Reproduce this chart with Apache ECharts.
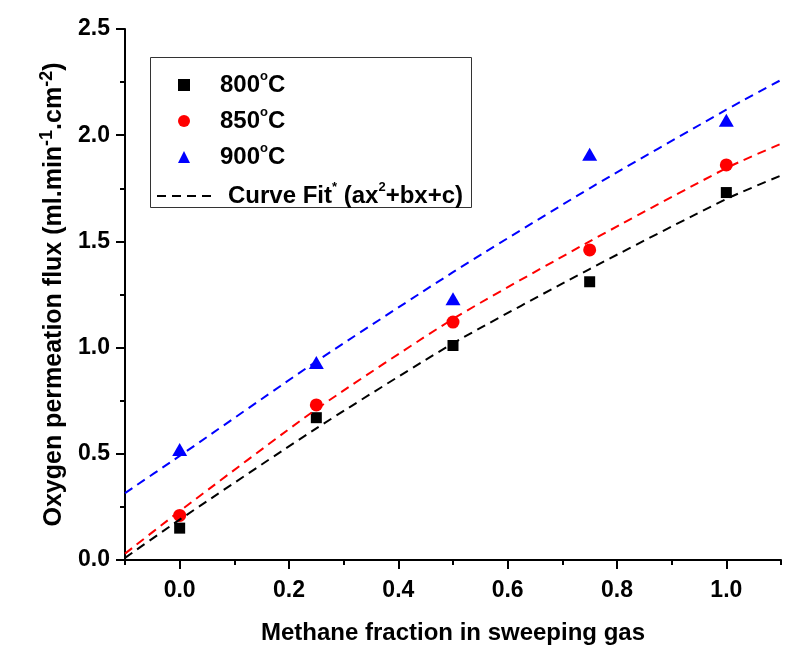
<!DOCTYPE html>
<html>
<head>
<meta charset="utf-8">
<script src="https://cdn.jsdelivr.net/npm/echarts@6/dist/echarts.min.js"></script>
<style>html,body{margin:0;padding:0;background:#fff}#c{width:807px;height:665px}</style>
</head>
<body>
<div id="c"></div>
<script>
// ---- data ----
const xMajorTicks = [0, 0.2, 0.4, 0.6, 0.8, 1.0];
const xMinorTicks = [-0.1, 0.1, 0.3, 0.5, 0.7, 0.9, 1.1];
const methane = [0, 0.25, 0.5, 0.75, 1.0];
const flux800 = [0.15, 0.67, 1.01, 1.31, 1.73];
const flux850 = [0.21, 0.73, 1.12, 1.46, 1.86];
const flux900 = [0.52, 0.93, 1.23, 1.91, 2.07];
const fitX = [-0.1, 0, 0.25, 0.5, 0.75, 1.0, 1.1];
const fit800 = [0.01, 0.19, 0.62, 1.02, 1.37, 1.70, 1.81];
const fit850 = [0.03, 0.23, 0.71, 1.135, 1.50, 1.845, 1.96];
const fit900 = [0.315, 0.49, 0.935, 1.355, 1.75, 2.12, 2.26];
const legendNames = ['800', '850', '900'];

const pair = (xs, ys) => xs.map((x, i) => [x, ys[i]]);
const FONT = '"Liberation Sans", Arial, sans-serif';

const chart = echarts.init(document.getElementById('c'), null, {renderer: 'canvas'});
const dashed = [9, 6];
const legendRich = {
  t: {fontFamily: FONT, fontWeight: 'bold', fontSize: 24, lineHeight: 30, color: '#000'},
  s: {fontFamily: FONT, fontWeight: 'bold', fontSize: 13, lineHeight: 11, verticalAlign: 'top', color: '#000'}
};

chart.setOption({
  backgroundColor: '#ffffff',
  animation: false,
  grid: {left: 125, right: 26, top: 29, bottom: 105, containLabel: false},
  graphic: [{
    type: 'rect', z: 1,
    shape: {x: 150.5, y: 57.5, width: 321, height: 150},
    style: {fill: '#ffffff', stroke: '#333333', lineWidth: 1}
  }],
  legend: [{
    orient: 'vertical', left: 178, top: 70, padding: 0,
    itemWidth: 12, itemHeight: 12, itemGap: 9,
    data: legendNames.map(n => n + '°C'),
    formatter: function (name) { return '{t|' + name.replace('°C', '') + '}{s|o}{t|C}'; },
    textStyle: {padding: [0, 0, 0, 25], rich: legendRich}
  }, {
    orient: 'vertical', left: 156, top: 181, padding: 0,
    itemWidth: 58, itemHeight: 12,
    data: [{name: 'Curve Fit', itemStyle: {opacity: 0}}],
    formatter: function () { return '{t|Curve Fit}{s|*}{t| (ax}{s|2}{t|+bx+c)}'; },
    textStyle: {padding: [0, 0, 0, 8], rich: legendRich}
  }],
  xAxis: [{
    type: 'value', min: -0.1, max: 1.1, position: 'bottom',
    name: 'Methane fraction in sweeping gas', nameLocation: 'middle', nameGap: 61,
    nameTextStyle: {fontFamily: FONT, fontWeight: 'bold', fontSize: 24, color: '#000'},
    axisLine: {show: true, onZero: false, lineStyle: {color: '#000', width: 2}},
    axisTick: {show: true, customValues: xMajorTicks, length: 9, inside: false, lineStyle: {color: '#000', width: 2}},
    axisLabel: {customValues: xMajorTicks, margin: 19, fontFamily: FONT, fontWeight: 'bold', fontSize: 23, color: '#000',
      formatter: v => v.toFixed(1)},
    splitLine: {show: false}
  }, {
    type: 'value', min: -0.1, max: 1.1, position: 'bottom',
    axisLine: {show: false, onZero: false},
    axisTick: {show: true, customValues: xMinorTicks, length: 5, lineStyle: {color: '#000', width: 2}},
    axisLabel: {show: false},
    splitLine: {show: false}
  }],
  yAxis: {
    type: 'value', min: 0, max: 2.5, interval: 0.5,
    name: '{t|Oxygen permeation flux (ml.min}{s|-1}{t|.cm}{s|-2}{t|)}',
    nameLocation: 'middle', nameGap: 55, nameRotate: 90,
    nameTextStyle: {
      rich: {
        t: {fontFamily: FONT, fontWeight: 'bold', fontSize: 25, lineHeight: 32, color: '#000'},
        s: {fontFamily: FONT, fontWeight: 'bold', fontSize: 18, lineHeight: 18, verticalAlign: 'top', color: '#000'}
      }
    },
    axisLine: {show: true, onZero: false, lineStyle: {color: '#000', width: 2}},
    axisTick: {show: true, length: 9, lineStyle: {color: '#000', width: 2}},
    minorTick: {show: true, splitNumber: 2, length: 5, lineStyle: {color: '#000', width: 2}},
    axisLabel: {margin: 15, fontFamily: FONT, fontWeight: 'bold', fontSize: 23, color: '#000',
      formatter: v => v.toFixed(1)},
    splitLine: {show: false}
  },
  series: [
    {name: '800°C', type: 'scatter', symbol: 'rect', symbolSize: 11, itemStyle: {color: '#000', opacity: 1}, data: pair(methane, flux800), z: 3},
    {name: '850°C', type: 'scatter', symbol: 'circle', symbolSize: 13, itemStyle: {color: '#ff0000', opacity: 1}, data: pair(methane, flux850), z: 3},
    {name: '900°C', type: 'scatter', symbol: 'triangle', symbolSize: [15, 13], itemStyle: {color: '#0000ff', opacity: 1}, data: pair(methane, flux900), z: 3},
    {name: 'Curve Fit', type: 'line', smooth: 0.2, symbol: 'none', data: pair(fitX, fit800),
      lineStyle: {color: '#000', width: 2, type: dashed}, itemStyle: {color: '#000'}, z: 4},
    {name: 'fit850', type: 'line', smooth: 0.2, symbol: 'none', data: pair(fitX, fit850),
      lineStyle: {color: '#ff0000', width: 2, type: dashed}, itemStyle: {color: '#ff0000'}, z: 4},
    {name: 'fit900', type: 'line', smooth: 0.2, symbol: 'none', data: pair(fitX, fit900),
      lineStyle: {color: '#0000ff', width: 2, type: dashed}, itemStyle: {color: '#0000ff'}, z: 4}
  ]
});
</script>
</body>
</html>
